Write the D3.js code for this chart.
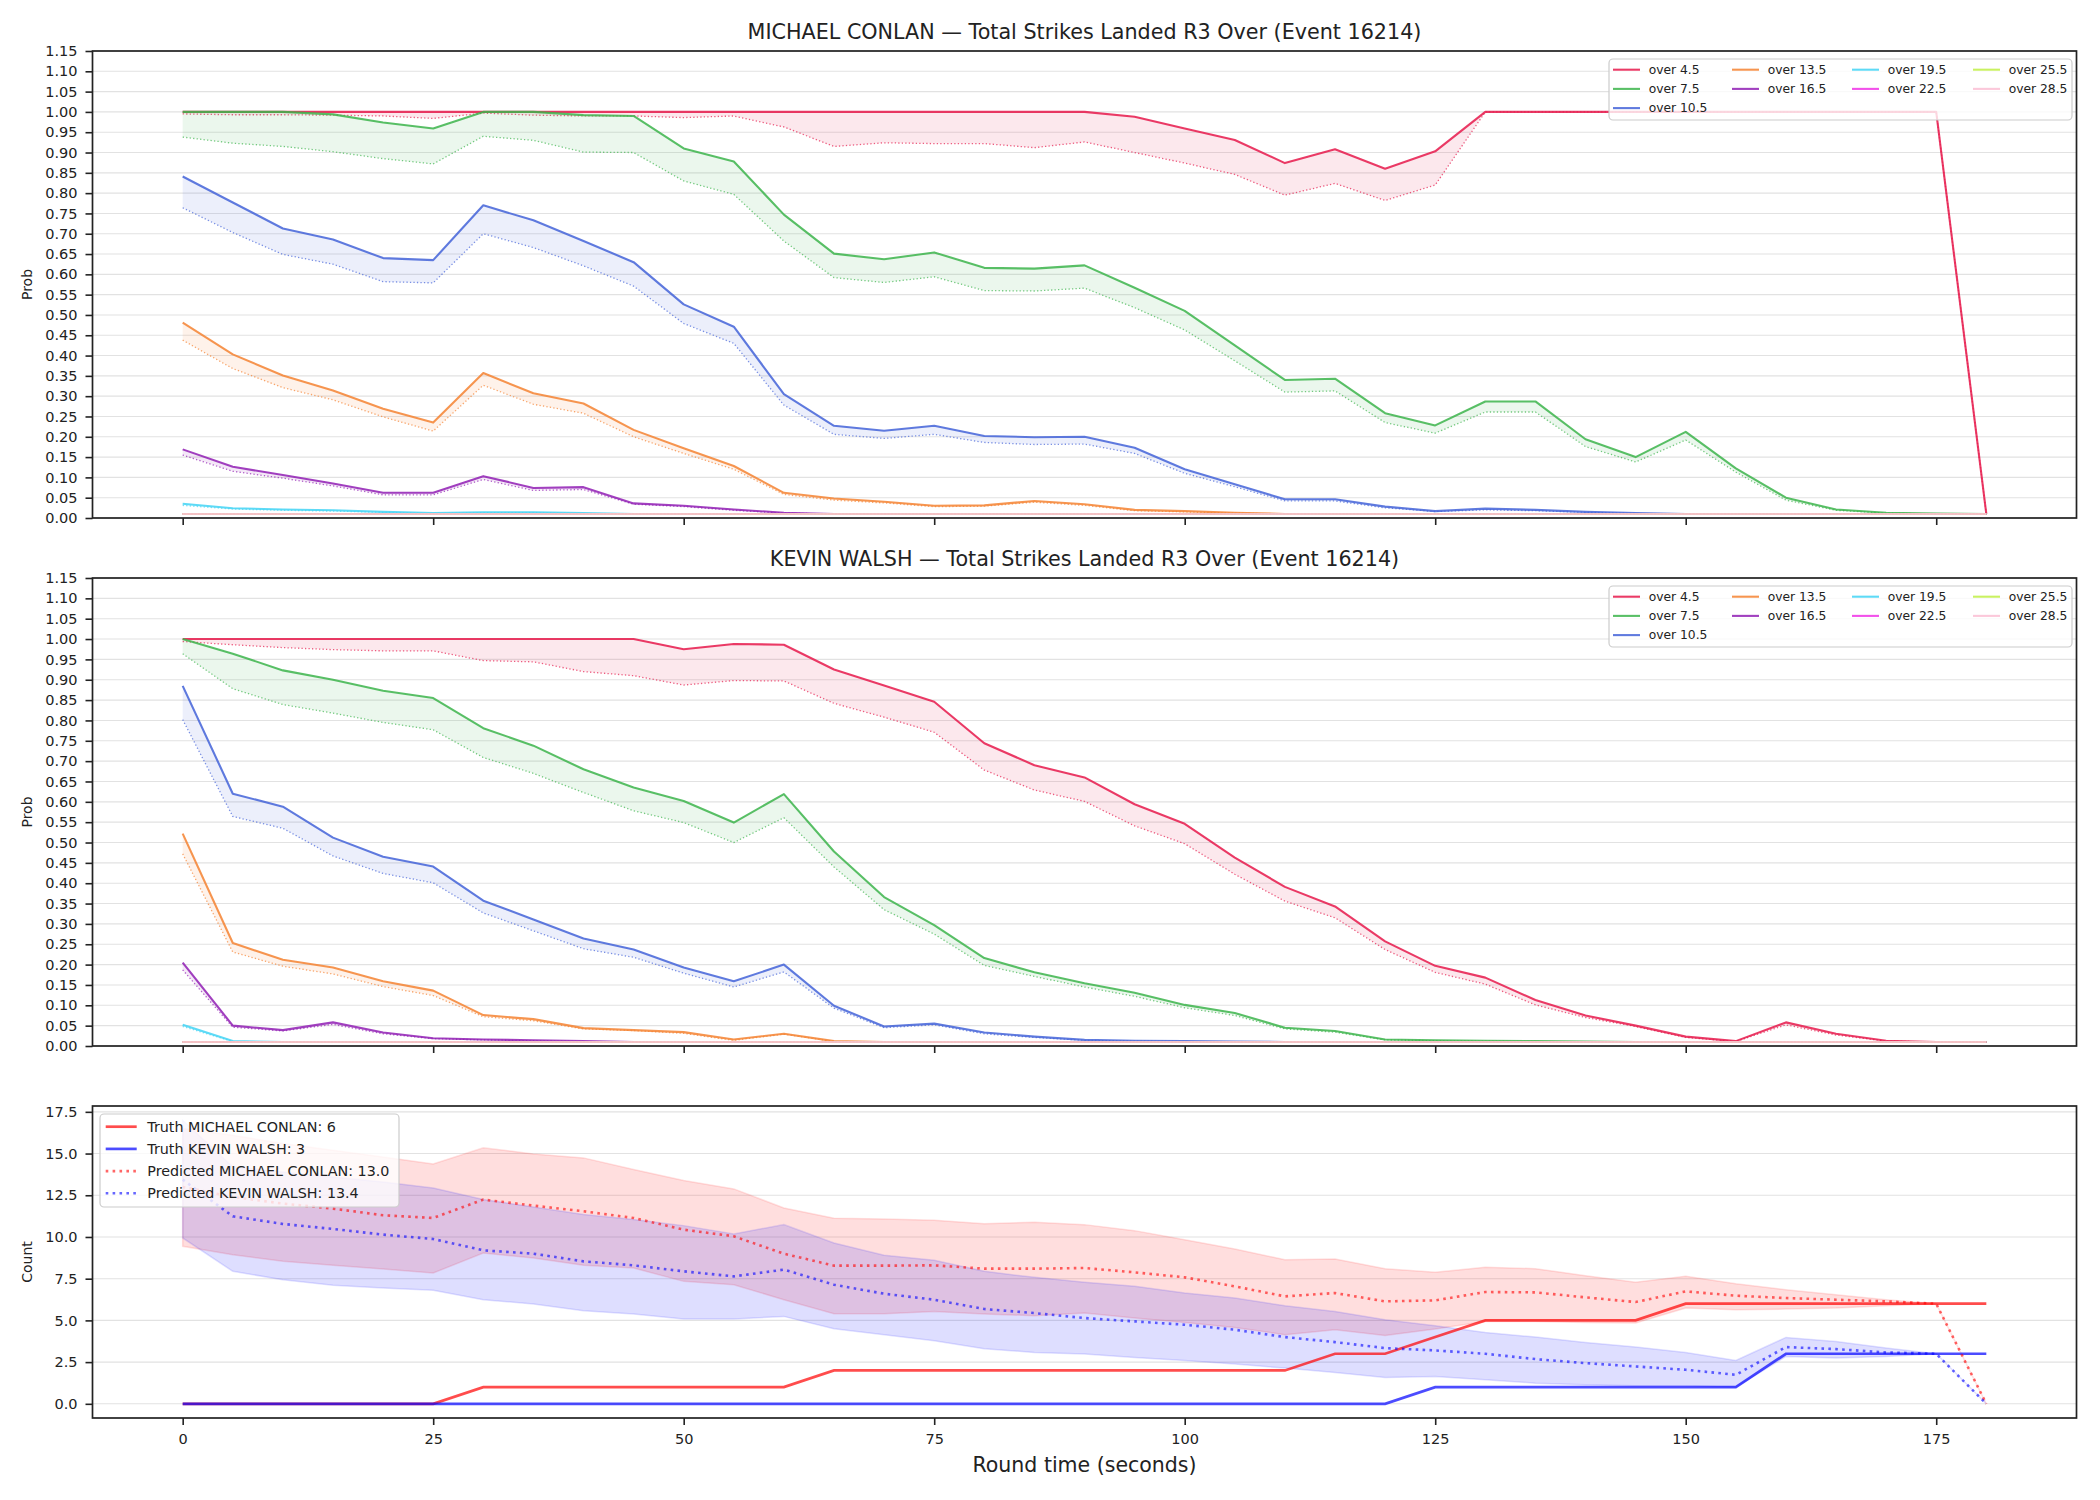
<!DOCTYPE html>
<html>
<head>
<meta charset="utf-8">
<script src="https://cdn.jsdelivr.net/npm/d3@7"></script>
<style>
  body { margin: 0; background: #fff; }
  text { font-family: "DejaVu Sans", sans-serif; fill: #222; }
</style>
</head>
<body>
<svg id="chart" width="2100" height="1500"></svg>
<script>
"use strict";

// ---- data ----
const times = [0,5,10,15,20,25,30,35,40,45,50,55,60,65,70,75,80,85,90,95,100,105,110,115,120,125,130,135,140,145,150,155,160,165,170,175,180];

const thresholds = ["over 4.5","over 7.5","over 10.5","over 13.5","over 16.5","over 19.5","over 22.5","over 25.5","over 28.5"];
const lineColors = ["#e6194b","#3cb44b","#4363d8","#f58231","#911eb4","#42d4f4","#f032e6","#bfef45","#fabed4"];

// lines that sit on the 0.01 floor for the whole round
const floorLine = [0.01,0.01,0.01,0.01,0.01,0.01,0.01,0.01,0.01,0.01,0.01,0.01,0.01,0.01,0.01,0.01,0.01,0.01,0.01,0.01,0.01,0.01,0.01,0.01,0.01,0.01,0.01,0.01,0.01,0.01,0.01,0.01,0.01,0.01,0.01,0.01,0.01];

// MICHAEL CONLAN: solid line and dotted lower line per threshold
const conlan45  = [1,1,1,1,1,1,1,1,1,1,1,1,1,1,1,1,1,1,1,0.988,0.959,0.931,0.874,0.908,0.860,0.903,1,1,1,1,1,1,1,1,1,1,0.01];
const conlan45d = [0.995,0.993,0.993,0.992,0.990,0.984,0.997,0.992,0.990,0.990,0.986,0.990,0.963,0.915,0.924,0.922,0.922,0.912,0.926,0.900,0.874,0.846,0.795,0.824,0.782,0.820,1,1,1,1,1,1,1,1,1,1,0.01];
const conlan75  = [1,1,1,0.994,0.974,0.959,1,1,0.992,0.990,0.910,0.878,0.747,0.651,0.637,0.654,0.616,0.614,0.622,0.567,0.510,0.425,0.340,0.343,0.258,0.228,0.287,0.287,0.194,0.150,0.212,0.122,0.050,0.021,0.013,0.011,0.010];
const conlan75d = [0.938,0.923,0.915,0.902,0.885,0.872,0.940,0.930,0.901,0.900,0.830,0.797,0.682,0.592,0.580,0.594,0.560,0.559,0.566,0.518,0.463,0.387,0.310,0.313,0.235,0.209,0.261,0.261,0.176,0.138,0.192,0.113,0.044,0.019,0.012,0.010,0.010];
const conlan105  = [0.841,0.777,0.713,0.686,0.640,0.635,0.770,0.733,0.682,0.630,0.526,0.471,0.305,0.227,0.215,0.227,0.202,0.199,0.200,0.173,0.120,0.083,0.046,0.046,0.028,0.017,0.023,0.020,0.015,0.012,0.01,0.01,0.01,0.01,0.01,0.01,0.01];
const conlan105d = [0.764,0.703,0.649,0.625,0.582,0.579,0.700,0.666,0.621,0.571,0.479,0.430,0.278,0.206,0.196,0.206,0.186,0.181,0.182,0.159,0.110,0.077,0.042,0.042,0.025,0.016,0.020,0.018,0.014,0.011,0.01,0.01,0.01,0.01,0.01,0.01,0.01];
const conlan135  = [0.481,0.403,0.351,0.314,0.269,0.235,0.357,0.307,0.282,0.217,0.172,0.128,0.062,0.048,0.040,0.030,0.031,0.042,0.034,0.020,0.017,0.013,0.01,0.01,0.01,0.01,0.01,0.01,0.01,0.01,0.01,0.01,0.01,0.01,0.01,0.01,0.01];
const conlan135d = [0.438,0.368,0.321,0.291,0.249,0.214,0.327,0.280,0.258,0.200,0.159,0.120,0.058,0.044,0.037,0.028,0.029,0.039,0.031,0.018,0.015,0.012,0.01,0.01,0.01,0.01,0.01,0.01,0.01,0.01,0.01,0.01,0.01,0.01,0.01,0.01,0.01];
const conlan165  = [0.169,0.126,0.106,0.085,0.062,0.062,0.103,0.074,0.076,0.036,0.030,0.021,0.013,0.01,0.01,0.01,0.01,0.01,0.01,0.01,0.01,0.01,0.01,0.01,0.01,0.01,0.01,0.01,0.01,0.01,0.01,0.01,0.01,0.01,0.01,0.01,0.01];
const conlan165d = [0.155,0.115,0.098,0.079,0.057,0.057,0.095,0.068,0.070,0.034,0.028,0.019,0.012,0.01,0.01,0.01,0.01,0.01,0.01,0.01,0.01,0.01,0.01,0.01,0.01,0.01,0.01,0.01,0.01,0.01,0.01,0.01,0.01,0.01,0.01,0.01,0.01];
const conlan195  = [0.035,0.024,0.021,0.019,0.015,0.012,0.014,0.014,0.012,0.01,0.01,0.01,0.01,0.01,0.01,0.01,0.01,0.01,0.01,0.01,0.01,0.01,0.01,0.01,0.01,0.01,0.01,0.01,0.01,0.01,0.01,0.01,0.01,0.01,0.01,0.01,0.01];
const conlan195d = [0.031,0.022,0.019,0.017,0.014,0.011,0.013,0.013,0.011,0.01,0.01,0.01,0.01,0.01,0.01,0.01,0.01,0.01,0.01,0.01,0.01,0.01,0.01,0.01,0.01,0.01,0.01,0.01,0.01,0.01,0.01,0.01,0.01,0.01,0.01,0.01,0.01];

// KEVIN WALSH
const walsh45  = [1,1,1,1,1,1,1,1,1,1,0.975,0.988,0.986,0.925,0.886,0.846,0.744,0.690,0.660,0.594,0.546,0.463,0.391,0.343,0.257,0.197,0.168,0.113,0.075,0.050,0.023,0.012,0.058,0.030,0.013,0.010,0.010];
const walsh45d = [0.994,0.986,0.979,0.974,0.971,0.971,0.947,0.944,0.920,0.910,0.887,0.898,0.897,0.842,0.808,0.771,0.678,0.629,0.601,0.541,0.497,0.422,0.356,0.315,0.237,0.181,0.152,0.101,0.070,0.048,0.021,0.011,0.052,0.027,0.012,0.010,0.010];
const walsh75  = [1,0.964,0.923,0.900,0.873,0.855,0.781,0.738,0.680,0.635,0.602,0.549,0.619,0.478,0.366,0.297,0.216,0.181,0.154,0.131,0.101,0.081,0.045,0.037,0.016,0.014,0.013,0.012,0.011,0.01,0.01,0.01,0.01,0.01,0.01,0.01,0.01];
const walsh75d = [0.964,0.878,0.839,0.818,0.795,0.777,0.709,0.670,0.623,0.578,0.549,0.500,0.561,0.440,0.335,0.275,0.198,0.171,0.145,0.122,0.094,0.075,0.042,0.034,0.015,0.013,0.012,0.011,0.010,0.01,0.01,0.01,0.01,0.01,0.01,0.01,0.01];
const walsh105  = [0.885,0.620,0.588,0.512,0.465,0.441,0.357,0.311,0.264,0.237,0.193,0.159,0.200,0.099,0.048,0.055,0.033,0.023,0.015,0.013,0.012,0.011,0.01,0.01,0.01,0.01,0.01,0.01,0.01,0.01,0.01,0.01,0.01,0.01,0.01,0.01,0.01];
const walsh105d = [0.802,0.564,0.535,0.467,0.424,0.401,0.327,0.283,0.239,0.218,0.179,0.145,0.182,0.093,0.045,0.052,0.030,0.021,0.014,0.012,0.011,0.010,0.01,0.01,0.01,0.01,0.01,0.01,0.01,0.01,0.01,0.01,0.01,0.01,0.01,0.01,0.01];
const walsh135  = [0.522,0.253,0.212,0.193,0.159,0.136,0.076,0.066,0.044,0.039,0.034,0.016,0.030,0.012,0.01,0.01,0.01,0.01,0.01,0.01,0.01,0.01,0.01,0.01,0.01,0.01,0.01,0.01,0.01,0.01,0.01,0.01,0.01,0.01,0.01,0.01,0.01];
const walsh135d = [0.472,0.231,0.196,0.177,0.146,0.124,0.072,0.062,0.042,0.038,0.031,0.014,0.029,0.011,0.01,0.01,0.01,0.01,0.01,0.01,0.01,0.01,0.01,0.01,0.01,0.01,0.01,0.01,0.01,0.01,0.01,0.01,0.01,0.01,0.01,0.01,0.01];
const walsh165  = [0.205,0.050,0.039,0.058,0.033,0.019,0.016,0.014,0.012,0.01,0.01,0.01,0.01,0.01,0.01,0.01,0.01,0.01,0.01,0.01,0.01,0.01,0.01,0.01,0.01,0.01,0.01,0.01,0.01,0.01,0.01,0.01,0.01,0.01,0.01,0.01,0.01];
const walsh165d = [0.187,0.046,0.037,0.053,0.030,0.018,0.015,0.013,0.011,0.01,0.01,0.01,0.01,0.01,0.01,0.01,0.01,0.01,0.01,0.01,0.01,0.01,0.01,0.01,0.01,0.01,0.01,0.01,0.01,0.01,0.01,0.01,0.01,0.01,0.01,0.01,0.01];
const walsh195  = [0.052,0.012,0.01,0.01,0.01,0.01,0.01,0.01,0.01,0.01,0.01,0.01,0.01,0.01,0.01,0.01,0.01,0.01,0.01,0.01,0.01,0.01,0.01,0.01,0.01,0.01,0.01,0.01,0.01,0.01,0.01,0.01,0.01,0.01,0.01,0.01,0.01];
const walsh195d = [0.048,0.011,0.01,0.01,0.01,0.01,0.01,0.01,0.01,0.01,0.01,0.01,0.01,0.01,0.01,0.01,0.01,0.01,0.01,0.01,0.01,0.01,0.01,0.01,0.01,0.01,0.01,0.01,0.01,0.01,0.01,0.01,0.01,0.01,0.01,0.01,0.01];

// count panel
const conlanTruth = [0,0,0,0,0,0,1,1,1,1,1,1,1,2,2,2,2,2,2,2,2,2,2,3,3,4,5,5,5,5,6,6,6,6,6,6,6];
const walshTruth  = [0,0,0,0,0,0,0,0,0,0,0,0,0,0,0,0,0,0,0,0,0,0,0,0,0,1,1,1,1,1,1,1,3,3,3,3,3];
const conlanPred = [13.0,12.4,12.0,11.7,11.3,11.14,12.24,11.88,11.54,11.14,10.44,10.04,9.0,8.28,8.28,8.3,8.1,8.1,8.14,7.88,7.58,7.04,6.44,6.64,6.14,6.2,6.7,6.68,6.38,6.1,6.74,6.48,6.34,6.24,6.14,6.0,0];
const conlanHi = [16.5,16.1,15.6,15.2,14.8,14.38,15.34,14.98,14.74,14.04,13.38,12.88,11.74,11.12,11.08,11.0,10.8,10.88,10.74,10.38,9.84,9.28,8.64,8.68,8.1,7.88,8.18,8.1,7.68,7.28,7.64,7.2,6.84,6.54,6.24,6.0,0];
const conlanLo = [9.44,8.94,8.54,8.3,8.08,7.84,9.04,8.74,8.3,8.14,7.34,7.14,6.24,5.4,5.4,5.54,5.38,5.28,5.44,5.14,4.88,4.58,4.14,4.44,4.1,4.48,4.94,4.94,4.88,4.84,5.74,5.64,5.68,5.74,5.88,6.0,0];
const walshPred = [13.44,11.24,10.78,10.48,10.14,9.88,9.2,9.0,8.54,8.3,7.94,7.64,8.04,7.14,6.6,6.24,5.68,5.44,5.14,4.94,4.74,4.44,4.0,3.7,3.34,3.2,3.0,2.68,2.44,2.24,2.04,1.74,3.4,3.28,3.08,3.0,0];
const walshHi = [17.0,14.2,13.9,13.6,13.3,12.94,12.24,11.8,11.34,11.04,10.68,10.18,10.74,9.64,8.9,8.6,7.94,7.58,7.28,7.04,6.64,6.34,5.88,5.54,5.04,4.68,4.28,4.0,3.68,3.4,3.08,2.6,3.98,3.74,3.34,3.0,0];
const walshLo = [9.94,7.94,7.44,7.1,6.94,6.8,6.24,5.98,5.58,5.38,5.08,5.08,5.24,4.5,4.14,3.78,3.3,3.08,2.98,2.78,2.6,2.38,2.14,1.88,1.58,1.64,1.44,1.24,1.14,1.08,1.08,1.0,2.84,2.74,2.84,3.0,0];

const probTicks = [0,0.05,0.1,0.15,0.2,0.25,0.3,0.35,0.4,0.45,0.5,0.55,0.6,0.65,0.7,0.75,0.8,0.85,0.9,0.95,1,1.05,1.1,1.15];
const countTicks = [0,2.5,5,7.5,10,12.5,15,17.5];
const timeTicks = [0,25,50,75,100,125,150,175];

const conlanSeries = [
  [conlan45, conlan45d], [conlan75, conlan75d], [conlan105, conlan105d],
  [conlan135, conlan135d], [conlan165, conlan165d], [conlan195, conlan195d],
  [floorLine, floorLine], [floorLine, floorLine], [floorLine, floorLine],
];
const walshSeries = [
  [walsh45, walsh45d], [walsh75, walsh75d], [walsh105, walsh105d],
  [walsh135, walsh135d], [walsh165, walsh165d], [walsh195, walsh195d],
  [floorLine, floorLine], [floorLine, floorLine], [floorLine, floorLine],
];

// sanity check on lengths
[...conlanSeries.flat(), ...walshSeries.flat(), conlanTruth, walshTruth, conlanPred, conlanHi, conlanLo, walshPred, walshHi, walshLo]
  .forEach((arr, i) => {
    if (arr.length !== times.length) throw new Error("bad length in series " + i + ": " + arr.length);
  });

// ---- layout ----
const svg = d3.select("#chart");
const plotLeft = 92.5;
const plotRight = 2076.5;
const midX = (plotLeft + plotRight) / 2;

const pad = (d3.max(times) - d3.min(times)) * 0.05;
const x = d3.scaleLinear()
  .domain([d3.min(times) - pad, d3.max(times) + pad])
  .range([plotLeft, plotRight]);

function drawGrid(g, y, ticks) {
  g.append("g")
    .selectAll("line")
    .data(ticks)
    .join("line")
    .attr("x1", plotLeft)
    .attr("x2", plotRight)
    .attr("y1", (d) => y(d))
    .attr("y2", (d) => y(d))
    .attr("stroke", "#e2e2e2")
    .attr("stroke-width", 1.1);
}

function drawFrame(g, y, top, bottom, ticks, fmt, label, showTimeLabels) {
  const yAxis = g.append("g")
    .attr("transform", `translate(${plotLeft},0)`)
    .call(d3.axisLeft(y).tickValues(ticks).tickFormat(fmt).tickSize(7).tickPadding(8));
  yAxis.select(".domain").remove();
  yAxis.selectAll(".tick line").attr("stroke", "#222").attr("stroke-width", 1.6);
  yAxis.selectAll(".tick text").attr("font-size", 14.5).attr("fill", "#222");

  const xAxis = g.append("g")
    .attr("transform", `translate(0,${bottom})`)
    .call(
      d3.axisBottom(x)
        .tickValues(timeTicks)
        .tickFormat(showTimeLabels ? d3.format("d") : "")
        .tickSize(7)
        .tickPadding(9)
    );
  xAxis.select(".domain").remove();
  xAxis.selectAll(".tick line").attr("stroke", "#222").attr("stroke-width", 1.6);
  xAxis.selectAll(".tick text").attr("font-size", 14.5).attr("fill", "#222");

  g.append("rect")
    .attr("x", plotLeft)
    .attr("y", top)
    .attr("width", plotRight - plotLeft)
    .attr("height", bottom - top)
    .attr("fill", "none")
    .attr("stroke", "#222")
    .attr("stroke-width", 1.7);

  g.append("text")
    .attr("transform", `translate(27,${(top + bottom) / 2}) rotate(-90)`)
    .attr("text-anchor", "middle")
    .attr("dominant-baseline", "central")
    .attr("font-size", 14)
    .text(label);
}

function drawProbPanel(top, bottom, title, series) {
  const g = svg.append("g");
  const y = d3.scaleLinear().domain([0, 1.15]).range([bottom, top]);

  drawGrid(g, y, probTicks);

  const area = d3.area()
    .x((d) => x(d.t))
    .y0((d) => y(d.lo))
    .y1((d) => y(d.hi));
  const line = d3.line()
    .x((d) => x(d.t))
    .y((d) => y(d.v));

  series.forEach(([solid, dotted], k) => {
    const color = lineColors[k];
    const rows = times.map((t, i) => ({ t: t, hi: solid[i], lo: dotted[i] }));
    g.append("path")
      .datum(rows)
      .attr("d", area)
      .attr("fill", color)
      .attr("fill-opacity", 0.1);
    g.append("path")
      .datum(times.map((t, i) => ({ t: t, v: dotted[i] })))
      .attr("d", line)
      .attr("fill", "none")
      .attr("stroke", color)
      .attr("stroke-opacity", 0.7)
      .attr("stroke-width", 1.3)
      .attr("stroke-dasharray", "1.3,2.2");
    g.append("path")
      .datum(times.map((t, i) => ({ t: t, v: solid[i] })))
      .attr("d", line)
      .attr("fill", "none")
      .attr("stroke", color)
      .attr("stroke-opacity", 0.85)
      .attr("stroke-width", 2.1)
      .attr("stroke-linejoin", "round");
  });

  drawFrame(g, y, top, bottom, probTicks, d3.format(".2f"), "Prob", false);

  g.append("text")
    .attr("x", midX)
    .attr("y", top - 12.5)
    .attr("text-anchor", "middle")
    .attr("font-size", 20.7)
    .text(title);

  // legend, 4 columns filled column by column
  const lg = g.append("g");
  const bx = 1609, by = top + 8;
  lg.append("rect")
    .attr("x", bx).attr("y", by)
    .attr("width", 463).attr("height", 61)
    .attr("rx", 4)
    .attr("fill", "#fff").attr("fill-opacity", 0.8)
    .attr("stroke", "#cccccc").attr("stroke-width", 1.2);
  const colX = [1613, 1732, 1852, 1973];
  thresholds.forEach((name, i) => {
    const col = i < 3 ? 0 : Math.floor((i - 3) / 2) + 1;
    const row = i < 3 ? i : (i - 3) % 2;
    const ly = by + 10.7 + row * 19.2;
    lg.append("line")
      .attr("x1", colX[col]).attr("x2", colX[col] + 27)
      .attr("y1", ly).attr("y2", ly)
      .attr("stroke", lineColors[i])
      .attr("stroke-opacity", 0.85)
      .attr("stroke-width", 2.1);
    lg.append("text")
      .attr("x", colX[col] + 35.7)
      .attr("y", ly)
      .attr("dominant-baseline", "central")
      .attr("font-size", 12.3)
      .text(name);
  });
}

drawProbPanel(51, 518, "MICHAEL CONLAN \u2014 Total Strikes Landed R3 Over (Event 16214)", conlanSeries);
drawProbPanel(578, 1046, "KEVIN WALSH \u2014 Total Strikes Landed R3 Over (Event 16214)", walshSeries);

// ---- count panel ----
(function drawCountPanel() {
  const top = 1106, bottom = 1418;
  const g = svg.append("g");
  const maxVal = d3.max([...conlanHi, ...walshHi, ...conlanPred, ...walshPred]);
  const y = d3.scaleLinear()
    .domain([-maxVal * 0.05, maxVal * 1.05])
    .range([bottom, top]);

  drawGrid(g, y, countTicks);

  const area = d3.area()
    .x((d) => x(d.t))
    .y0((d) => y(d.lo))
    .y1((d) => y(d.hi));
  const line = d3.line()
    .x((d) => x(d.t))
    .y((d) => y(d.v));

  const bands = [
    { hi: conlanHi, lo: conlanLo, color: "#ff0000" },
    { hi: walshHi, lo: walshLo, color: "#0000ff" },
  ];
  bands.forEach((b) => {
    g.append("path")
      .datum(times.map((t, i) => ({ t: t, hi: b.hi[i], lo: b.lo[i] })))
      .attr("d", area)
      .attr("fill", b.color)
      .attr("fill-opacity", 0.13)
      .attr("stroke", b.color)
      .attr("stroke-opacity", 0.12)
      .attr("stroke-width", 1.5);
  });

  const countLines = [
    { v: conlanTruth, color: "#ff0000", opacity: 0.7, width: 2.7, dash: null, label: "Truth MICHAEL CONLAN: 6" },
    { v: walshTruth, color: "#0000ff", opacity: 0.7, width: 2.7, dash: null, label: "Truth KEVIN WALSH: 3" },
    { v: conlanPred, color: "#ff0000", opacity: 0.6, width: 2.6, dash: "2.6,4.3", label: "Predicted MICHAEL CONLAN: 13.0" },
    { v: walshPred, color: "#0000ff", opacity: 0.6, width: 2.6, dash: "2.6,4.3", label: "Predicted KEVIN WALSH: 13.4" },
  ];
  countLines.forEach((s) => {
    g.append("path")
      .datum(times.map((t, i) => ({ t: t, v: s.v[i] })))
      .attr("d", line)
      .attr("fill", "none")
      .attr("stroke", s.color)
      .attr("stroke-opacity", s.opacity)
      .attr("stroke-width", s.width)
      .attr("stroke-dasharray", s.dash);
  });

  drawFrame(g, y, top, bottom, countTicks, d3.format(".1f"), "Count", true);

  g.append("text")
    .attr("x", midX)
    .attr("y", 1472)
    .attr("text-anchor", "middle")
    .attr("font-size", 20.5)
    .text("Round time (seconds)");

  // legend
  const lg = g.append("g");
  lg.append("rect")
    .attr("x", 100).attr("y", 1114)
    .attr("width", 299).attr("height", 93)
    .attr("rx", 4)
    .attr("fill", "#fff").attr("fill-opacity", 0.8)
    .attr("stroke", "#cccccc").attr("stroke-width", 1.2);
  countLines.forEach((s, i) => {
    const ly = 1126.7 + i * 22.2;
    lg.append("line")
      .attr("x1", 105.7).attr("x2", 136.7)
      .attr("y1", ly).attr("y2", ly)
      .attr("stroke", s.color)
      .attr("stroke-opacity", s.opacity)
      .attr("stroke-width", s.width)
      .attr("stroke-dasharray", s.dash);
    lg.append("text")
      .attr("x", 147.3)
      .attr("y", ly)
      .attr("dominant-baseline", "central")
      .attr("font-size", 14.3)
      .text(s.label);
  });
})();
</script>
</body>
</html>
